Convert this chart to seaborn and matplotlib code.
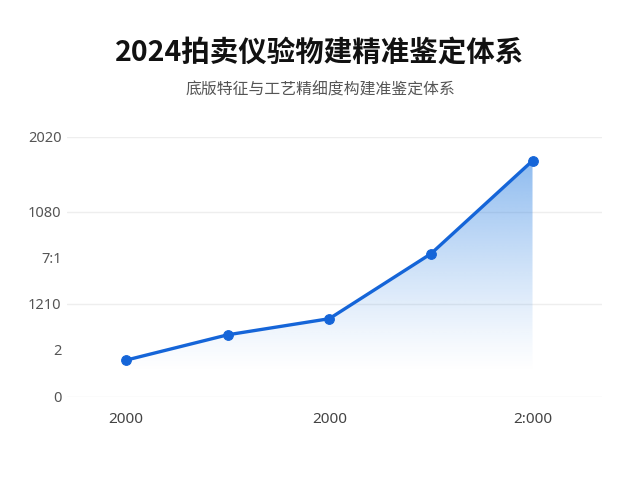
import numpy as np
import pandas as pd
import seaborn as sns
import matplotlib.pyplot as plt
from matplotlib.patches import Polygon

# data
x_idx = [0, 1, 2, 3, 4]
values = [0.80, 1.35, 1.70, 3.11, 5.13]
x_tick_pos = [0, 2, 4]
x_tick_labels = ["2000", "2000", "2:000"]
y_tick_pos = [0, 1.02, 2.02, 3.02, 4.02, 5.65]
y_tick_labels = ["0", "2", "1210", "7:1", "1080", "2020"]
grid_pos = [0, 2.02, 4.02, 5.65]

title = "2024拍卖仪验物建精准鉴定体系"
subtitle = "底版特征与工艺精细度构建准鉴定体系"

sns.set_theme(style="white")
plt.rcParams['font.family'] = ['Noto Sans CJK SC', 'DejaVu Sans']

line_color = "#1565d8"
df = pd.DataFrame({"x": x_idx, "y": values})

fig = plt.figure(figsize=(6.4, 4.8), dpi=100)
ax = fig.add_axes([0.105, 0.173, 0.835, 0.542])

# grid lines
for g in grid_pos:
    ax.axhline(g, color="#eeeeee", lw=1.0, zorder=0)

# gradient fill under the line
poly_pts = [(x_idx[0], 0)] + list(zip(x_idx, values)) + [(x_idx[-1], 0)]
poly = Polygon(poly_pts, closed=True, facecolor="none", edgecolor="none")
ax.add_patch(poly)
ymax = max(values)
grad = np.linspace(0, 1, 256).reshape(-1, 1)
alpha = np.clip((grad - 0.1) / 0.9, 0, 1) ** 1.2 * 0.5
rgba = np.zeros((256, 1, 4))
rgba[..., 0] = 0x1e / 255
rgba[..., 1] = 0x78 / 255
rgba[..., 2] = 0xe0 / 255
rgba[..., 3] = alpha
img = ax.imshow(rgba, extent=[x_idx[0], x_idx[-1], 0, ymax], origin="lower",
                aspect="auto", zorder=1, interpolation="bilinear")
img.set_clip_path(poly)

sns.lineplot(data=df, x="x", y="y", ax=ax, color=line_color, lw=2.4,
             marker="o", markersize=7, markeredgecolor=line_color, zorder=3)

ax.set_xlim(-0.58, 4.68)
ax.set_ylim(0, 5.65)
ax.set_xticks(x_tick_pos)
ax.set_xticklabels(x_tick_labels, fontsize=11, color="#444444",
                   family=['Noto Sans', 'DejaVu Sans'])
ax.set_yticks(y_tick_pos)
ax.set_yticklabels(y_tick_labels, fontsize=10.5, color="#555555",
                   family=['Noto Sans', 'DejaVu Sans'])
ax.tick_params(axis="both", length=0)
ax.tick_params(axis="x", pad=11)
ax.tick_params(axis="y", pad=4)
ax.set_xlabel("")
ax.set_ylabel("")
for s in ax.spines.values():
    s.set_visible(False)

fig.text(0.5, 0.890, title, ha="center", va="center", fontsize=20.5,
         fontweight="bold", color="#111111")
fig.text(0.5, 0.8125, subtitle, ha="center", va="center", fontsize=11.4,
         color="#555555")

fig.savefig("out.png", dpi=100, facecolor="white")
